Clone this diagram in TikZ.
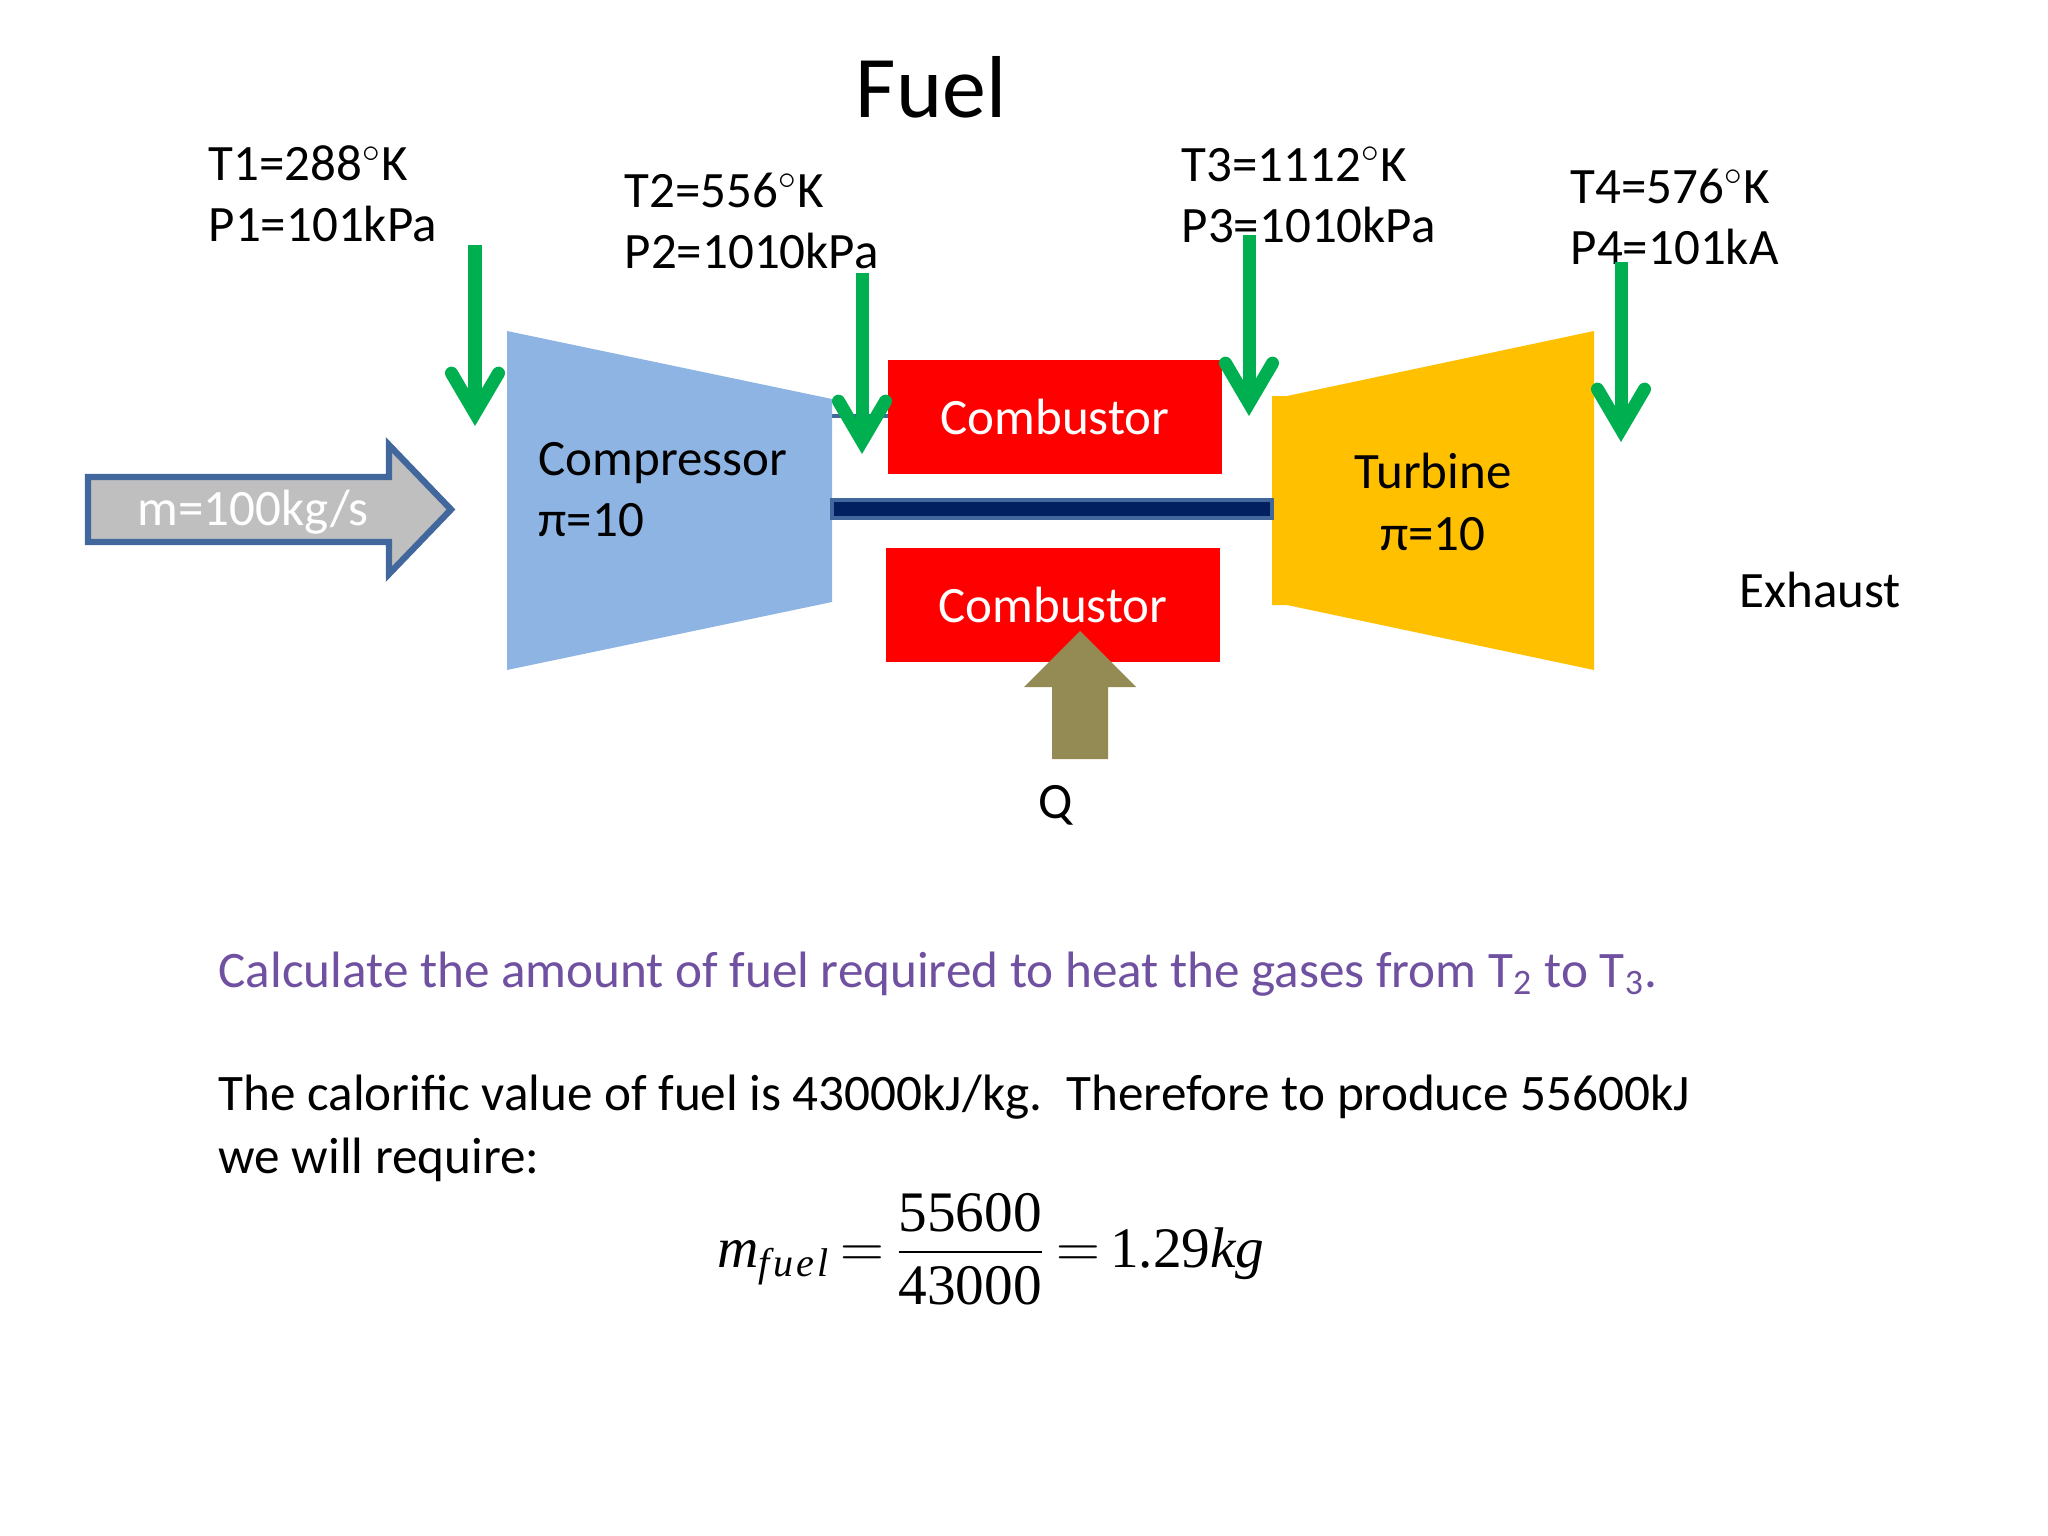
\documentclass[tikz,border=0pt]{standalone}
\usepackage{amsmath}
\usepackage{fontspec}
\setmainfont{Carlito}
\newfontfamily\formulafont{Liberation Serif}
\usetikzlibrary{arrows.meta}
\definecolor{compBlue}{HTML}{8EB4E3}
\definecolor{turbYellow}{HTML}{FFC000}
\definecolor{flowGreen}{HTML}{00B050}
\definecolor{heatOlive}{HTML}{948A54}
\definecolor{edgeBlue}{HTML}{41679C}
\definecolor{shaftNavy}{HTML}{002060}
\definecolor{askPurple}{HTML}{7050A0}
\newcommand{\degK}{$^{\circ}$K}
\begin{document}
\begin{tikzpicture}[x=0.01cm,y=-0.01cm]
\tikzset{
    thisText/.style={
                   inner sep=0pt,
                   font=\fontsize{14.5}{17.4}\selectfont
    },
    stateText/.style={
                   thisText,
                   anchor=west,
                   align=left
    },
    burnerBox/.style={
                   fill=red,
                   minimum width=3.34cm,
                   minimum height=1.13cm,
                   inner sep=0pt,
                   text=white,
                   font=\fontsize{14.5}{17.4}\selectfont
    },
    flowArrow/.style={
                   draw=flowGreen,
                   line width=3.7pt,
                   -{Straight Barb[length=4mm,width=4.7mm,line cap=round]}
    },
    bodyText/.style={
                   inner sep=0pt,
                   anchor=west,
                   font=\fontsize{14.55}{17.4}\selectfont
    }
}
    \useasboundingbox (0,0) rectangle (2048,1536);
    \fill[white] (0,0) rectangle (2048,1536);

    % engine bodies
    \draw[edgeBlue, line width=1pt] (832,416) -- (888,416);
    \fill[compBlue] (507,331) -- (832,399) -- (832,602) -- (507,670) -- cycle;
    \fill[turbYellow] (1272,396) -- (1287,396) -- (1594,331) -- (1594,670) -- (1287,605) -- (1272,605) -- cycle;
    \node (burnerTop)[burnerBox] at (1055,417) {Combustor};
    \node (burnerBot)[burnerBox] at (1053,605) {Combustor};
    \draw[draw=edgeBlue, fill=shaftNavy, line width=1.4pt] (832,500) rectangle (1272,518);

    % inlet and heat arrows
    \draw[draw=edgeBlue, fill=black!25, line width=1.8pt] (88,477) -- (389,477) -- (389,445) -- (451,509.5) -- (389,574) -- (389,542) -- (88,542) -- cycle;
    \fill[heatOlive] (1080,631) -- (1136,687) -- (1108,687) -- (1108,759) -- (1052,759) -- (1052,687) -- (1024,687) -- cycle;

    \node (inlet)[thisText, text=white] at (253,512) {m=100kg/s};
    \node (comp)[stateText] at (538,490) {Compressor\\π=10};
    \node (turb)[thisText, align=center] at (1433,502) {Turbine\\π=10};
    \node (exhaust)[thisText] at (1820,590) {Exhaust};
    \node (heat)[thisText] at (1056,805) {Q};
    \node (fuel)[thisText, font=\fontsize{25}{30}\selectfont] at (931,87) {Fuel};

    \node (state1)[stateText] at (208,194) {T1=288\degK\\P1=101kPa};
    \node (state2)[stateText] at (624,221) {T2=556\degK\\P2=1010kPa};
    \node (state3)[stateText] at (1181,195) {T3=1112\degK\\P3=1010kPa};
    \node (state4)[stateText] at (1570,217) {T4=576\degK\\P4=101kA};

    % station arrows
    \coordinate (a1) at (475,245);
    \coordinate (b1) at (475,426);
    \coordinate (a2) at (862,273);
    \coordinate (b2) at (862,454);
    \coordinate (a3) at (1249,235);
    \coordinate (b3) at (1249,416);
    \coordinate (a4) at (1621,262);
    \coordinate (b4) at (1621,442);
    \foreach \i in {1,2,3,4}
        \draw[flowArrow] (a\i) -- (b\i);

    % text below
    \node (ask)[bodyText, text=askPurple] at (218,974) {Calculate the amount of fuel required to heat the gases from T\textsubscript{2} to T\textsubscript{3}.};
    \node (line1)[bodyText] at (218,1097) {The calorific value of fuel is 43000kJ/kg.\hspace{0.9mm} Therefore to produce 55600kJ};
    \node (line2)[bodyText] at (218,1160) {we will require:};
    \node (result)[inner sep=0pt, font=\formulafont\fontsize{16.3}{19}\selectfont] at (991,1251) {$\displaystyle \thickmuskip=3mu \textit{m}_{\textit{\addfontfeature{LetterSpace=8}fuel}}=\frac{\raisebox{-1.4pt}{55600}}{\raisebox{1.4pt}{43000}}=\text{1.29}\textit{kg}$};
\end{tikzpicture}
\end{document}
